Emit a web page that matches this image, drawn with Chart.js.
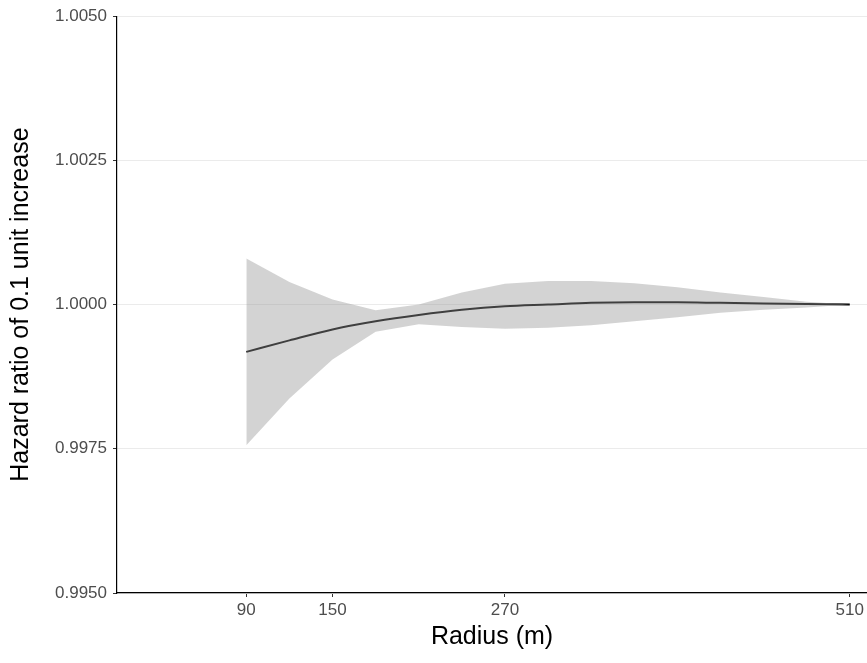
<!DOCTYPE html>
<html>
<head>
<meta charset="utf-8">
<script src="https://cdn.jsdelivr.net/npm/chart.js@4.4.1/dist/chart.umd.min.js"></script>
<style>
  body { margin: 0; background: #fff; }
  canvas { display: block; }
</style>
</head>
<body>
<canvas id="hrChart" width="867" height="663"></canvas>
<script>
// radius (m) and hazard ratio estimates with confidence band
const radius = [90, 120, 150, 180, 210, 240, 270, 300, 330, 360, 390, 420, 450, 480, 510];
const hazardRatio = [0.99918, 0.99938, 0.99957, 0.99971, 0.99982, 0.99991, 0.99997, 1.00000, 1.00003, 1.00004, 1.00004, 1.00003, 1.00002, 1.00001, 1.00000];
const upperCI = [1.00080, 1.00039, 1.00009, 0.99990, 1.00000, 1.00021, 1.00036, 1.00041, 1.00041, 1.00037, 1.00030, 1.00021, 1.00013, 1.00005, 1.00000];
const lowerCI = [0.99756, 0.99837, 0.99905, 0.99953, 0.99966, 0.99961, 0.99958, 0.99960, 0.99964, 0.99971, 0.99978, 0.99986, 0.99991, 0.99995, 1.00000];

const xTicks = [90, 150, 270, 510];
const yTicks = [0.995, 0.9975, 1.0, 1.0025, 1.005];

const toPoints = (ys) => radius.map((r, i) => ({ x: r, y: ys[i] }));

const tickFont = { family: 'Liberation Sans, Arial, sans-serif', size: 17 };
const titleFont = { family: 'Liberation Sans, Arial, sans-serif', size: 25 };

const ctx = document.getElementById('hrChart').getContext('2d');
new Chart(ctx, {
  type: 'line',
  data: {
    datasets: [
      {
        label: 'lower',
        data: toPoints(lowerCI),
        borderWidth: 0,
        pointRadius: 0,
        fill: false
      },
      {
        label: 'upper',
        data: toPoints(upperCI),
        borderWidth: 0,
        pointRadius: 0,
        backgroundColor: 'rgba(150, 150, 150, 0.42)',
        fill: '-1'
      },
      {
        label: 'HR',
        data: toPoints(hazardRatio),
        borderColor: '#000',
        borderWidth: 2,
        pointRadius: 0,
        cubicInterpolationMode: 'monotone',
        fill: false
      }
    ]
  },
  options: {
    responsive: false,
    animation: false,
    layout: { padding: { top: 13, right: 0, bottom: 0, left: 0 } },
    plugins: {
      legend: { display: false },
      tooltip: { enabled: false }
    },
    scales: {
      x: {
        type: 'linear',
        min: 0,
        max: 522,
        afterBuildTicks: (scale) => { scale.ticks = xTicks.map(v => ({ value: v })); },
        afterFit: (scale) => { scale.height = 70; },
        ticks: {
          autoSkip: false,
          maxRotation: 0,
          color: '#4D4D4D',
          font: tickFont,
          padding: 3,
          callback: (v) => String(v)
        },
        grid: {
          drawOnChartArea: false,
          drawTicks: true,
          tickLength: 4,
          tickColor: '#333',
          tickWidth: 1
        },
        border: { display: true, color: '#000', width: 1.2 },
        title: {
          display: true,
          text: 'Radius (m)',
          color: '#000',
          font: titleFont,
          padding: { top: 0, bottom: 11 }
        }
      },
      y: {
        type: 'linear',
        min: 0.995,
        max: 1.005,
        afterBuildTicks: (scale) => { scale.ticks = yTicks.map(v => ({ value: v })); },
        afterFit: (scale) => { scale.width = 117; },
        ticks: {
          autoSkip: false,
          color: '#4D4D4D',
          font: tickFont,
          padding: 6,
          callback: (v) => Number(v).toFixed(4)
        },
        grid: {
          color: '#EBEBEB',
          lineWidth: 1,
          drawTicks: true,
          tickLength: 4,
          tickColor: '#333',
          tickWidth: 1
        },
        border: { display: true, color: '#000', width: 1.2 },
        title: {
          display: true,
          text: 'Hazard ratio of 0.1 unit increase',
          color: '#000',
          font: titleFont,
          padding: { top: 6, bottom: 0 }
        }
      }
    }
  }
});
</script>
</body>
</html>
